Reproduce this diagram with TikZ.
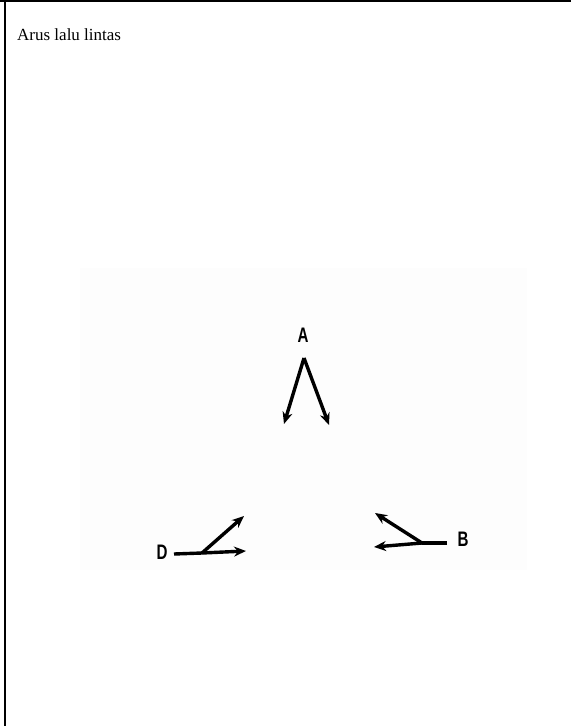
\documentclass[tikz,border=0pt]{standalone}
\usepackage{fontspec}
\setmainfont{Liberation Serif}
\setsansfont{Liberation Sans}
\usepackage{tikz}
\usetikzlibrary{arrows.meta}

\tikzset{
  lbl/.style={font=\sffamily\bfseries\fontsize{21}{21}\selectfont, xscale=0.72, inner sep=0pt},
  flow/.style={line width=3.4pt, -{Stealth[length=12pt,width=10pt]}},
  road/.style={line width=3.4pt}
}

\begin{document}
\begin{tikzpicture}[x=1pt,y=-1pt]
            \useasboundingbox (0,0) rectangle (571,726);
            \fill[white] (0,0) rectangle (571,726);
            \fill[black!0.6] (80,268) rectangle (527,570);
            \draw[line width=2pt] (0,1) -- (571,1);
            \draw[line width=2pt] (5,0) -- (5,726);
            
            \node[anchor=base west, inner sep=0pt, font=\fontsize{17}{17}\selectfont] (title) at (17,40) {Arus lalu lintas};
            
            \node[lbl] (A) at (303,335) {A};
            \coordinate (a0) at (304,358);
            \coordinate (a1) at (284,424);
            \coordinate (a2) at (329,425);
            \draw[flow] (a0) -- (a1);
            \draw[flow] (a0) -- (a2);
            
            \node[lbl] (D) at (162,552) {D};
            \coordinate (d0) at (174,554);
            \coordinate (d1) at (202,553);
            \coordinate (d2) at (246,551);
            \coordinate (d3) at (244,516);
            \draw[road] (d0) -- (d1);
            \draw[flow] (d1) -- (d2);
            \draw[flow] (d1) -- (d3);
            
            \node[lbl] (B) at (463,539) {B};
            \coordinate (b0) at (447,543);
            \coordinate (b1) at (422,543);
            \coordinate (b2) at (374,547);
            \coordinate (b3) at (375,513);
            \draw[road] (b0) -- (b1);
            \draw[flow] (b1) -- (b2);
            \draw[flow] (b1) -- (b3);
         \end{tikzpicture}
\end{document}
